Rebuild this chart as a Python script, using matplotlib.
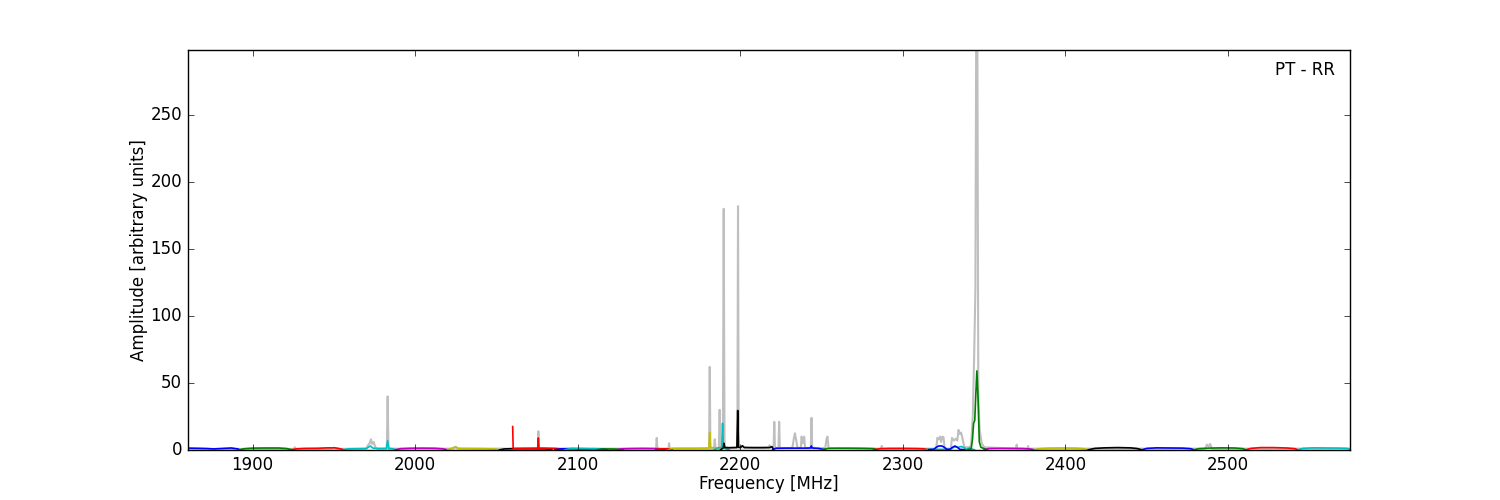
import matplotlib
matplotlib.use("Agg")
import matplotlib.pyplot as plt

# sub-band spectra (frequency in MHz, amplitude in arbitrary units)
band_colors = ['b', 'g', 'r', 'c', 'm', 'y', 'k', 'r', 'b', 'c', 'g', 'm', 'r', 'y', 'c',
               'k', 'b', 'g', 'r', 'c', 'b', 'g', 'm', 'y', 'k', 'b', 'g', 'r', 'c']
band_freqs = [
    [1860, 1861, 1866, 1872, 1876, 1882, 1887, 1891, 1892],
    [1892, 1895, 1900, 1908, 1916, 1921, 1924],
    [1924, 1927, 1932, 1940, 1946, 1951, 1954, 1956],
    [1956, 1959, 1965, 1970, 1972.5, 1974, 1977, 1982.3, 1983.1, 1983.8, 1986, 1988],
    [1988, 1991, 1997, 2004, 2012, 2017, 2020],
    [2020, 2022, 2024.5, 2027, 2034, 2042, 2049, 2052],
    [2052, 2055, 2060, 2070, 2080, 2084],
    [2060, 2060.3, 2061, 2066, 2072, 2075.4, 2075.8, 2076.2, 2080, 2086, 2090, 2092],
    [2086, 2090, 2096, 2104, 2110, 2116, 2118],
    [2092, 2096, 2102, 2108, 2113, 2116],
    [2112, 2115, 2120, 2125, 2128],
    [2124, 2127, 2133, 2140, 2146, 2150, 2154],
    [2148, 2150, 2154, 2157, 2158],
    [2156, 2158, 2164, 2172, 2178, 2180.7, 2181.2, 2181.7, 2184, 2186, 2188],
    [2184, 2186, 2188.6, 2189.1, 2189.6, 2191, 2193],
    [2188, 2189.5, 2190, 2190.5, 2193, 2197.9, 2198.4, 2198.9, 2200, 2201.3, 2202.5, 2208, 2214, 2218, 2219.5, 2220.5],
    [2220, 2222, 2228, 2234, 2240, 2243.2, 2243.7, 2244.2, 2248, 2252],
    [2250, 2254, 2260, 2268, 2276, 2282, 2284],
    [2282, 2286, 2292, 2300, 2308, 2313, 2316],
    [2314, 2318, 2320, 2326, 2328, 2330, 2332, 2334, 2336, 2338, 2339, 2341, 2343, 2344],
    [2316, 2319, 2320.5, 2322, 2324, 2325.5, 2327, 2329, 2330.5, 2332, 2333.5, 2335, 2338],
    [2340, 2342, 2342.8, 2343.5, 2344.2, 2344.8, 2345.5, 2346.2, 2347, 2348, 2350, 2352],
    [2350, 2353, 2360, 2368, 2374, 2378, 2381],
    [2381, 2384, 2390, 2398, 2406, 2411, 2414],
    [2414, 2418, 2424, 2432, 2440, 2444, 2447],
    [2447, 2450, 2456, 2464, 2472, 2477, 2479],
    [2479, 2482, 2488, 2496, 2504, 2509, 2511],
    [2511, 2514, 2520, 2528, 2536, 2541, 2543],
    [2543, 2546, 2552, 2560, 2568, 2573, 2575],
]
band_amps = [
    [0.5, 1.4, 1.3, 1.1, 0.8, 1.2, 1.5, 0.8, 0.2],
    [0.2, 1.0, 1.4, 1.5, 1.5, 1.1, 0.2],
    [0.2, 0.9, 1.2, 1.3, 1.6, 1.6, 0.9, 0.2],
    [0.2, 0.9, 1.0, 1.1, 3.0, 1.4, 1.1, 1.2, 7.0, 1.2, 1.0, 0.2],
    [0.2, 1.0, 1.3, 1.4, 1.3, 0.9, 0.1],
    [0.2, 1.1, 2.2, 1.2, 1.1, 1.0, 0.7, 0.1],
    [0.1, 0.8, 1.0, 1.0, 0.9, 0.3],
    [17.5, 1.3, 1.1, 1.2, 1.3, 1.4, 9.0, 1.4, 1.4, 1.2, 0.8, 0.2],
    [0.2, 0.9, 1.0, 0.8, 0.9, 0.8, 0.2],
    [0.2, 1.1, 1.2, 1.0, 0.9, 0.2],
    [0.2, 0.7, 0.8, 0.6, 0.1],
    [0.1, 0.9, 1.1, 1.2, 1.1, 1.0, 0.3],
    [0.2, 0.8, 0.9, 0.8, 0.2],
    [0.2, 1.2, 1.3, 1.3, 1.4, 1.5, 13.0, 1.8, 1.6, 1.5, 0.3],
    [0.2, 1.5, 2.0, 20.0, 2.0, 1.0, 0.2],
    [0.3, 1.5, 5.0, 1.8, 1.6, 1.8, 29.5, 2.0, 1.8, 3.2, 1.8, 1.7, 1.7, 1.8, 2.5, 0.3],
    [0.3, 1.3, 1.4, 1.4, 1.4, 1.5, 3.0, 1.5, 1.2, 0.2],
    [0.2, 1.2, 1.3, 1.3, 1.2, 1.0, 0.2],
    [0.2, 1.0, 1.2, 1.2, 1.1, 0.9, 0.2],
    [0.3, 0.6, 0.5, 0.5, 0.4, 1.2, 2.4, 2.0, 2.6, 1.5, 0.4, 1.5, 0.5, 0.2],
    [0.3, 0.5, 2.0, 3.0, 3.0, 2.0, 0.5, 0.5, 2.0, 3.0, 2.0, 0.5, 0.2],
    [0.3, 0.8, 8.0, 20.0, 22.0, 40.0, 59.0, 40.0, 6.0, 2.0, 1.0, 0.3],
    [0.2, 1.1, 1.2, 1.2, 1.1, 0.8, 0.1],
    [0.1, 1.0, 1.4, 1.5, 1.4, 1.0, 0.1],
    [0.1, 1.2, 1.6, 1.8, 1.6, 1.1, 0.1],
    [0.1, 1.2, 1.6, 1.5, 1.4, 1.0, 0.1],
    [0.1, 1.0, 1.4, 1.6, 1.5, 1.0, 0.1],
    [0.1, 1.2, 1.8, 1.8, 1.5, 1.0, 0.1],
    [0.1, 1.2, 1.6, 1.5, 1.4, 1.2, 0.8],
]

# full-resolution spectrum drawn in grey underneath
grey_freqs = [1860, 1925.5, 1926, 1926.5, 1949, 1950, 1951,
              1970, 1971, 1972, 1972.8, 1973.5, 1974.5, 1975.5, 1977,
              1982.6, 1983.1, 1983.6, 2024, 2025, 2026, 2075.5, 2075.8, 2076.1,
              2148.2, 2148.6, 2149, 2155.8, 2156.2, 2156.6,
              2180.8, 2181.2, 2181.6, 2183.8, 2184.3, 2184.8, 2186.8, 2187.3, 2187.8,
              2189.3, 2189.8, 2190.3, 2198.2, 2198.6, 2199.0, 2217.5, 2218, 2218.5,
              2220.5, 2220.9, 2221.3, 2223.5, 2223.9, 2224.3,
              2232, 2233, 2233.6, 2234.3, 2235.2, 2237.2, 2237.7, 2238.3, 2239.3, 2239.8,
              2243.4, 2243.8, 2244.2, 2252.3, 2253, 2253.6, 2254.3, 2286.5, 2287, 2287.5,
              2320.5, 2321.2, 2322, 2322.8, 2323.5, 2324.2, 2325, 2325.7,
              2329.5, 2330.2, 2331.5, 2332.5, 2333.5, 2334.2, 2335, 2335.8, 2336.8, 2337.8,
              2341, 2342, 2343, 2343.8, 2344.6, 2345.1, 2345.8, 2346.4, 2347.2, 2348.5, 2350,
              2369.6, 2370, 2370.4, 2376.6, 2377, 2377.4,
              2486, 2487, 2488, 2489, 2490, 2575]
grey_amps = [0.8, 0.8, 2.0, 0.8, 0.8, 1.8, 0.8,
             1.0, 3.5, 5.0, 8.0, 4.5, 6.0, 2.0, 1.0,
             1.0, 40.0, 1.0, 1.0, 2.5, 1.0, 1.0, 14.0, 1.0,
             1.0, 9.0, 1.0, 1.0, 5.0, 1.0,
             1.0, 62.0, 1.0, 1.0, 8.0, 1.0, 1.0, 30.0, 1.0,
             2.0, 180.0, 2.0, 2.0, 182.0, 2.0, 2.0, 3.5, 2.0,
             1.5, 21.0, 1.5, 1.5, 21.0, 1.5,
             1.5, 9.0, 12.5, 8.0, 1.5, 1.5, 10.0, 5.0, 10.0, 1.5,
             1.5, 24.0, 1.5, 1.5, 8.0, 10.0, 1.5, 1.0, 3.0, 1.0,
             1.0, 9.0, 8.0, 10.0, 6.0, 10.0, 9.5, 1.0,
             1.0, 9.0, 7.0, 8.5, 7.0, 15.0, 12.0, 13.0, 8.0, 2.0,
             2.0, 4.0, 25.0, 68.0, 120.0, 310.0, 310.0, 40.0, 15.0, 5.0, 2.0,
             1.0, 4.0, 1.0, 1.0, 3.0, 1.0,
             1.0, 4.0, 2.5, 4.5, 1.0, 1.0]

plt.style.use('classic')
fig = plt.figure(figsize=(15, 5), dpi=100, facecolor='w')
ax = fig.add_subplot(111)

ax.plot(grey_freqs, grey_amps, color='0.75', lw=1.5)
for f, a, c in zip(band_freqs, band_amps, band_colors):
    ax.plot(f, a, color=c, lw=1.2)

ax.set_xlim(1860, 2575)
ax.set_ylim(0, 298.5)
ax.set_xticks([1900, 2000, 2100, 2200, 2300, 2400, 2500])
ax.set_yticks([0, 50, 100, 150, 200, 250])
ax.set_xlabel("Frequency [MHz]", labelpad=1)
ax.set_ylabel("Amplitude [arbitrary units]", labelpad=2)
ax.text(0.987, 0.95, "PT - RR", transform=ax.transAxes, ha='right', va='center', fontsize=12)

fig.savefig("out.png", dpi=100, facecolor='w')
